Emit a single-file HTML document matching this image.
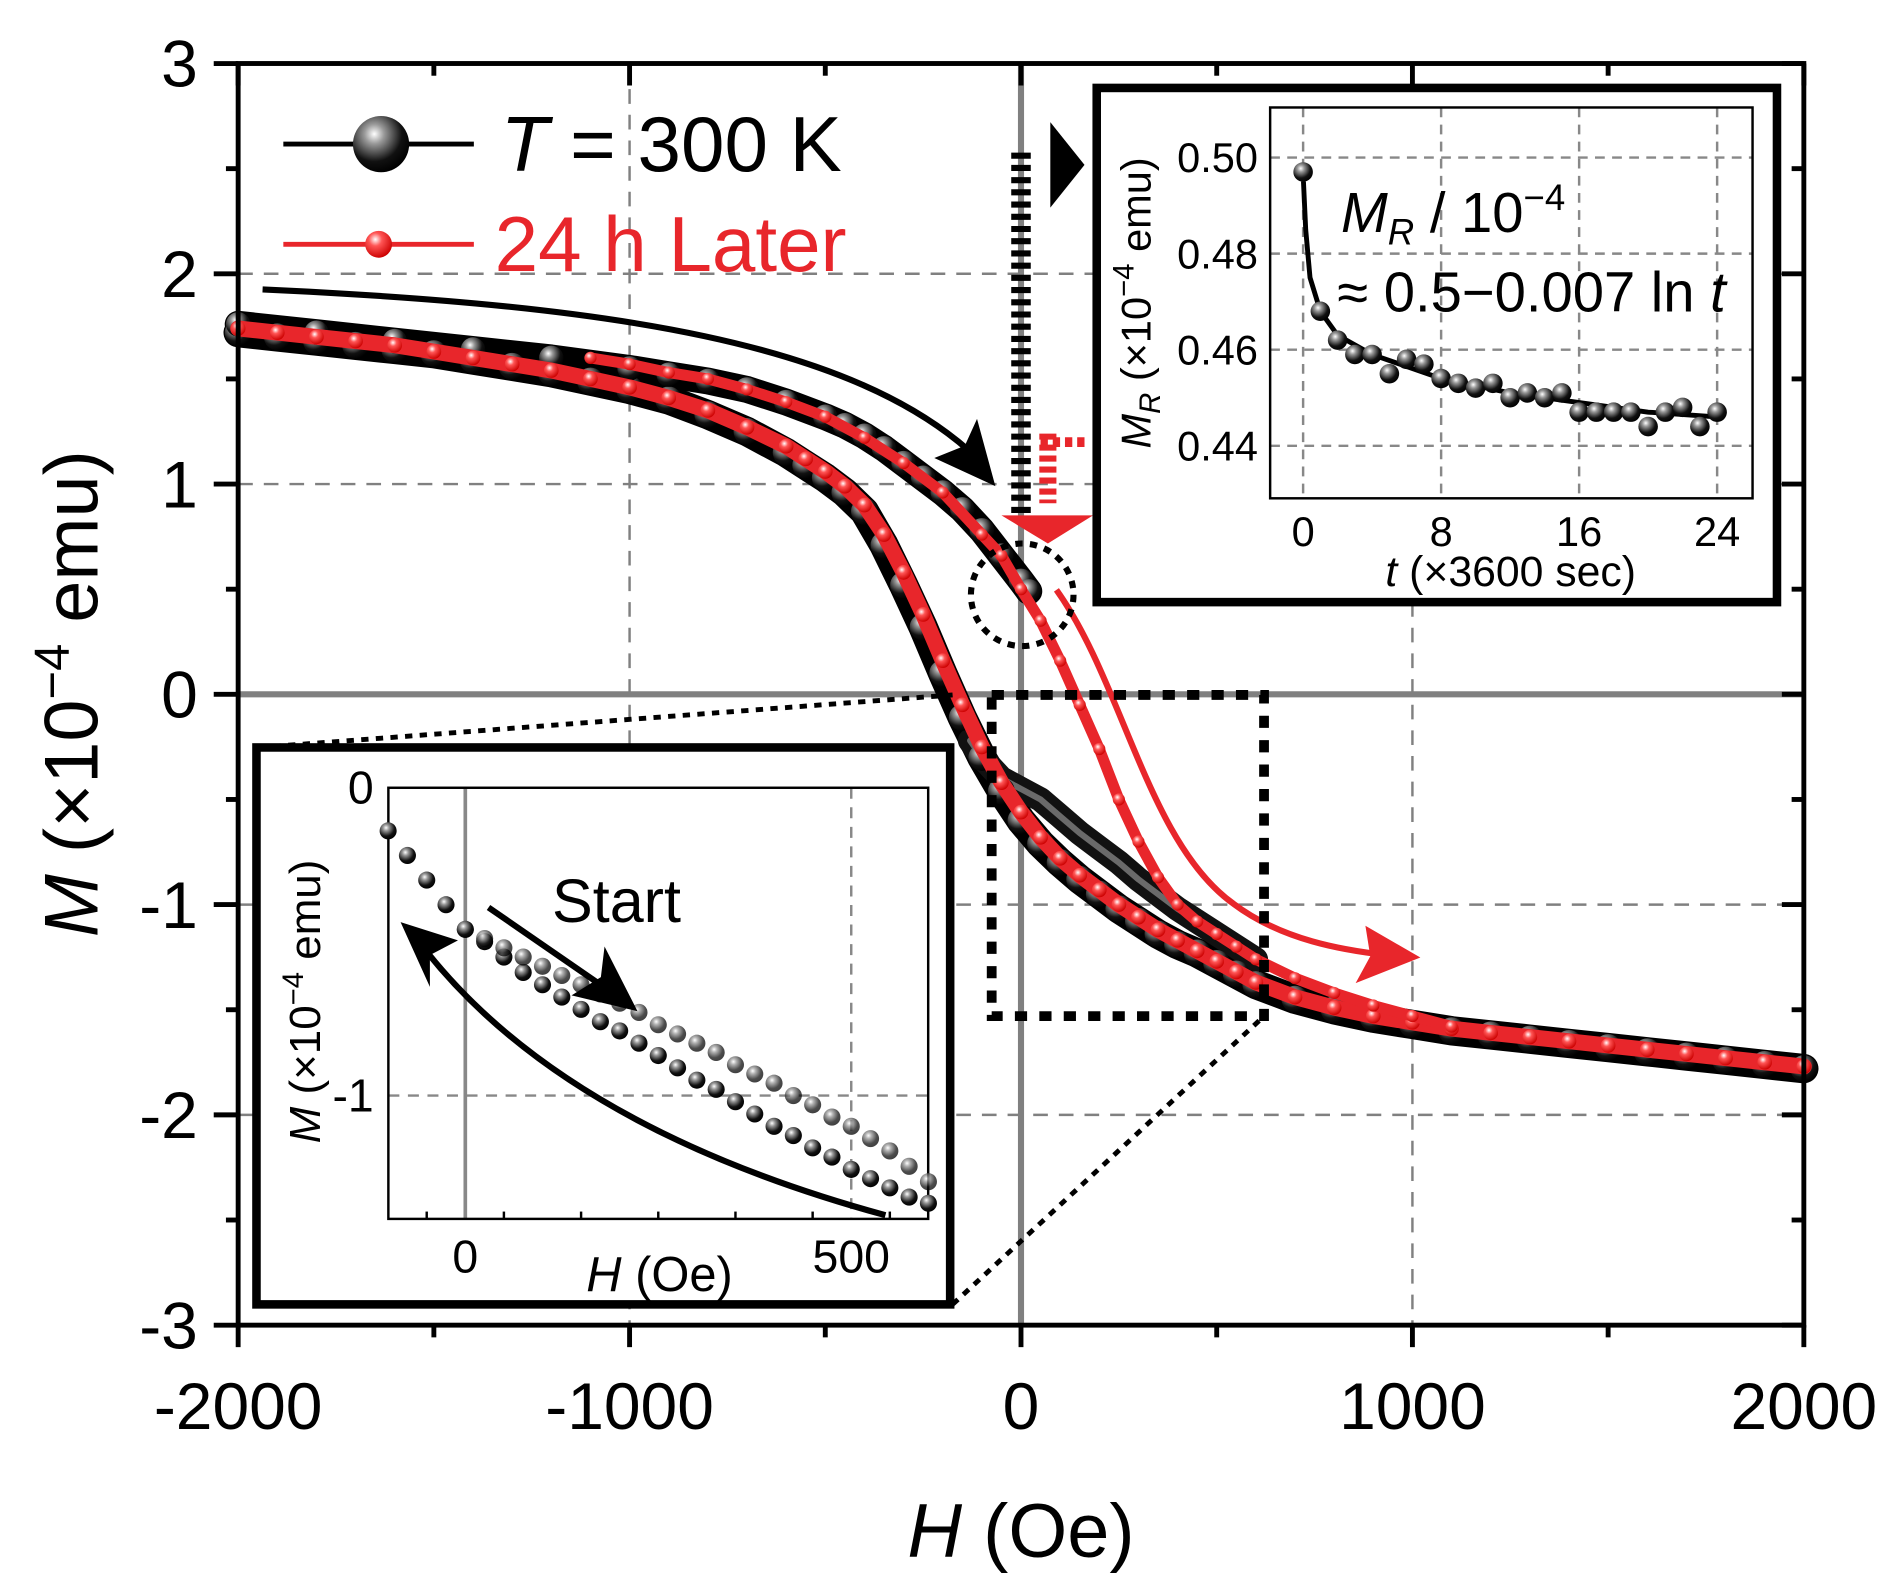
<!DOCTYPE html>
<html><head><meta charset="utf-8"><style>
html,body{margin:0;padding:0;background:#fff}
svg{display:block}
text{font-family:"Liberation Sans",sans-serif}
</style></head><body>
<svg id="chart" width="1893" height="1582" viewBox="0 0 1550 1295.3" preserveAspectRatio="none" xmlns="http://www.w3.org/2000/svg">
<defs>
<radialGradient id="gB" cx="0.38" cy="0.32" r="0.7"><stop offset="0" stop-color="#fff"/><stop offset="0.25" stop-color="#999"/><stop offset="0.7" stop-color="#111"/><stop offset="1" stop-color="#000"/></radialGradient>
<radialGradient id="gR" cx="0.38" cy="0.32" r="0.7"><stop offset="0" stop-color="#fff"/><stop offset="0.35" stop-color="#f55"/><stop offset="1" stop-color="#c00"/></radialGradient>
</defs>
<g id="main"></g>
<g id="inset1"></g>
<g id="inset2"></g>
</svg>
<script>
// ---- main chart data ----
const xTicks=[-2000,-1000,0,1000,2000];
const yTicks=[3,2,1,0,-1,-2,-3];
const blackLowH=[-2000,-1900,-1800,-1700,-1600,-1500,-1400,-1300,-1200,-1100,-1000,-900,-800,-700,-600,-550,-500,-450,-400,-350,-300,-250,-200,-150,-100,-50,0,50,100,150,200,250,300,350,400,450,500,550,600,700,800,900,1000,1100,1200,1300,1400,1500,1600,1700,1800,1900,2000];
const blackLowM=[1.72,1.70,1.68,1.66,1.64,1.62,1.59,1.56,1.53,1.49,1.45,1.40,1.33,1.25,1.15,1.09,1.03,0.96,0.87,0.71,0.52,0.32,0.1,-0.11,-0.3,-0.46,-0.6,-0.71,-0.8,-0.88,-0.95,-1.02,-1.08,-1.14,-1.19,-1.23,-1.28,-1.33,-1.38,-1.45,-1.50,-1.54,-1.57,-1.60,-1.62,-1.64,-1.66,-1.68,-1.70,-1.72,-1.74,-1.76,-1.78];
const blackUpH=[-2000,-1800,-1600,-1400,-1200,-1000,-900,-800,-700,-600,-500,-450,-400,-350,-300,-250,-200,-150,-100,-50,0,20];
const blackUpM=[1.76,1.72,1.68,1.64,1.60,1.55,1.52,1.49,1.45,1.39,1.32,1.28,1.23,1.17,1.10,1.03,0.96,0.88,0.78,0.66,0.54,0.49];
const blackStartH=[-130,-100,-50,0,50,100,150,200,250,300,350,400,450,500,550,600];
const blackStartM=[-0.22,-0.3,-0.4,-0.45,-0.5,-0.58,-0.66,-0.73,-0.8,-0.88,-0.95,-1.02,-1.08,-1.14,-1.2,-1.26];
const redLowH=[-2000,-1900,-1800,-1700,-1600,-1500,-1400,-1300,-1200,-1100,-1000,-900,-800,-700,-600,-550,-500,-450,-400,-350,-300,-250,-200,-150,-100,-50,0,50,100,150,200,250,300,350,400,450,500,550,600,700,800,900,1000,1100,1200,1300,1400,1500,1600,1700,1800,1900,2000];
const redLowM=[1.74,1.72,1.70,1.68,1.66,1.63,1.60,1.57,1.54,1.50,1.46,1.41,1.35,1.27,1.18,1.12,1.06,0.99,0.9,0.76,0.58,0.38,0.16,-0.05,-0.25,-0.42,-0.56,-0.68,-0.78,-0.86,-0.93,-1.0,-1.06,-1.12,-1.17,-1.22,-1.27,-1.32,-1.37,-1.44,-1.49,-1.53,-1.56,-1.59,-1.61,-1.63,-1.65,-1.67,-1.69,-1.71,-1.73,-1.75,-1.77];
const redUpH=[-1100,-1000,-900,-800,-700,-600,-500,-400,-300,-200,-100,-50,0,50,100,150,200,250,300,350,400,450,500,550,600,700,800,900,1000,1100];
const redUpM=[1.6,1.57,1.53,1.5,1.45,1.39,1.32,1.22,1.1,0.96,0.76,0.66,0.5,0.35,0.16,-0.05,-0.26,-0.5,-0.7,-0.87,-1.0,-1.08,-1.14,-1.2,-1.26,-1.35,-1.42,-1.48,-1.53,-1.58];
// ---- inset 1 data ----
const in1XTicks=[0,500];
const in1YTicks=[0,-1];
const in1GreyH=[0,25,50,75,100,125,150,175,200,225,250,275,300,325,350,375,400,425,450,475,500,525,550,575,600];
const in1GreyM=[-0.46,-0.49,-0.52,-0.55,-0.58,-0.61,-0.64,-0.67,-0.70,-0.73,-0.77,-0.80,-0.83,-0.86,-0.90,-0.93,-0.96,-1.0,-1.03,-1.07,-1.1,-1.14,-1.18,-1.23,-1.28];
const in1BlackH=[-100,-75,-50,-25,0,25,50,75,100,125,150,175,200,225,250,275,300,325,350,375,400,425,450,475,500,525,550,575,600];
const in1BlackM=[-0.14,-0.22,-0.3,-0.38,-0.46,-0.5,-0.55,-0.6,-0.64,-0.68,-0.72,-0.76,-0.79,-0.83,-0.87,-0.91,-0.95,-0.98,-1.02,-1.06,-1.1,-1.13,-1.17,-1.2,-1.24,-1.27,-1.3,-1.33,-1.35];
// ---- inset 2 data ----
const in2XTicks=[0,8,16,24];
const in2YTicks=[0.50,0.48,0.46,0.44];
const in2T=[0,1,2,3,4,5,6,7,8,9,10,11,12,13,14,15,16,17,18,19,20,21,22,23,24];
const in2M=[0.497,0.468,0.462,0.459,0.459,0.455,0.458,0.457,0.454,0.453,0.452,0.453,0.450,0.451,0.450,0.451,0.447,0.447,0.447,0.447,0.444,0.447,0.448,0.444,0.447];
const in2FitT=[0.02,0.15,0.4,1,2,4,8,12,16,20,24];
const in2FitM=[0.495,0.485,0.475,0.468,0.463,0.459,0.454,0.451,0.449,0.447,0.446];

const NS="http://www.w3.org/2000/svg";
function mk(parent,tag,attrs,txt){const e=document.createElementNS(NS,tag);for(const k in attrs)e.setAttribute(k,attrs[k]);if(txt!==undefined)e.textContent=txt;parent.appendChild(e);return e;}

const X=h=>195+(h+2000)*(1477-195)/4000;
const Y=m=>52+(3-m)*(1085-52)/6;
const G=document.getElementById('main');
[-1000,1000].forEach(v=>{const l=mk(G,'line',{x1:X(v),x2:X(v),y1:52,y2:1085,stroke:'#808080','stroke-width':2,'stroke-dasharray':'12 9'});

});
[2,1,-1,-2].forEach(v=>{const l=mk(G,'line',{x1:195,x2:1477,y1:Y(v),y2:Y(v),stroke:'#808080','stroke-width':2,'stroke-dasharray':'12 9'});

});
let z1=mk(G,'line',{x1:X(0),x2:X(0),y1:52,y2:1085,stroke:'#808080','stroke-width':5});


let z2=mk(G,'line',{x1:195,x2:1477,y1:Y(0),y2:Y(0),stroke:'#808080','stroke-width':5});



function poly(g,H,M,fx,fy,stroke,w,name){const p=mk(g,'polyline',{points:H.map((h,i)=>fx(h)+','+fy(M[i])).join(' '),fill:'none',stroke:stroke,'stroke-width':w,'stroke-linejoin':'round','stroke-linecap':'round'});

return p;}
function dots(g,H,M,fx,fy,r,grad,name){H.forEach((h,i)=>{const c=mk(g,'circle',{cx:fx(h),cy:fy(M[i]),r:r,fill:'url(#'+grad+')'});

});}

poly(G,blackLowH,blackLowM,X,Y,'#000',24,'black-lower-branch');
poly(G,blackUpH,blackUpM,X,Y,'#000',22,'black-upper-branch');
poly(G,blackStartH,blackStartM,X,Y,'#111',20,'black-start-branch');
poly(G,blackStartH,blackStartM,X,Y,'#6a6a6a',5,'black-start-core');
dots(G,blackLowH,blackLowM,X,Y,11,'gB','black-lower-marker');
dots(G,blackUpH,blackUpM,X,Y,10,'gB','black-upper-marker');
poly(G,redLowH,redLowM,X,Y,'#e8262b',13,'red-lower-branch');
dots(G,redLowH,redLowM,X,Y,6,'gR','red-lower-marker');
poly(G,redUpH,redUpM,X,Y,'#e8262b',9,'red-upper-branch');
dots(G,redUpH,redUpM,X,Y,5,'gR','red-upper-marker');

let fr=mk(G,'rect',{x:195,y:52,width:1282,height:1033,fill:'none',stroke:'#000','stroke-width':4});


for(let v=-2000;v<=2000;v+=500){const major=v%1000===0;
 const t=mk(G,'line',{x1:X(v),x2:X(v),y1:1085,y2:1085+(major?18:10),stroke:'#000','stroke-width':4});
 
 
 const t2=mk(G,'line',{x1:X(v),x2:X(v),y1:52,y2:52+(major?18:10),stroke:'#000','stroke-width':4});
 
 }
for(let v=-3;v<=3;v+=0.5){const major=Math.abs(v%1)<1e-9;
 const t=mk(G,'line',{x1:195-(major?20:10),x2:195,y1:Y(v),y2:Y(v),stroke:'#000','stroke-width':4});
 
 
 const t2=mk(G,'line',{x1:1477-(major?18:10),x2:1477,y1:Y(v),y2:Y(v),stroke:'#000','stroke-width':4});
 
 }
xTicks.forEach(v=>{const t=mk(G,'text',{x:X(v),y:1170,'font-size':54,'text-anchor':'middle'},String(v));

});
yTicks.forEach(v=>{const t=mk(G,'text',{x:162,y:Y(v)+19,'font-size':54,'text-anchor':'end'},String(v));

});
</script>
<script>
(function(){
const G=document.getElementById('main');
function add(tag,attrs,txt,name){const e=mk(G,tag,attrs,txt);return e;}
let xt=add('text',{x:836,y:1275,'font-size':62,'text-anchor':'middle'},'','x-axis-title');
xt.innerHTML='<tspan font-style="italic">H</tspan> (Oe)';
let yt=add('text',{x:0,y:0,'font-size':62,'text-anchor':'middle',transform:'translate(80,568) rotate(-90)'},'','y-axis-title');
yt.innerHTML='<tspan font-style="italic">M</tspan> (×10<tspan dy="-24" font-size="40">−4</tspan><tspan dy="24"> emu)</tspan>';
add('line',{x1:232,x2:388,y1:118,y2:118,stroke:'#000','stroke-width':4},undefined,'legend-black-line');
add('circle',{cx:312,cy:118,r:23,fill:'url(#gB)'},undefined,'legend-black-marker');
let l1=add('text',{x:410,y:140,'font-size':64},'','legend-black-label');
l1.innerHTML='<tspan font-style="italic">T</tspan> = 300 K';
add('line',{x1:232,x2:388,y1:200,y2:200,stroke:'#e8262b','stroke-width':4},undefined,'legend-red-line');
add('circle',{cx:310,cy:200,r:11,fill:'url(#gR)'},undefined,'legend-red-marker');
add('text',{x:405,y:222,'font-size':64,fill:'#e8262b'},'24 h Later','legend-red-label');
add('path',{d:'M215,237 C500,250 700,280 800,375',fill:'none',stroke:'#000','stroke-width':5},undefined,'black-sweep-arrow');
add('polygon',{points:'815,398 765,375 790,365 800,343',fill:'#000'},undefined,'black-sweep-arrowhead');
add('path',{d:'M865,483 C920,560 940,690 1010,740 C1050,770 1100,778 1135,782',fill:'none',stroke:'#e8262b','stroke-width':5},undefined,'red-sweep-arrow');
add('polygon',{points:'1163,784 1110,805 1122,783 1118,758',fill:'#e8262b'},undefined,'red-sweep-arrowhead');
add('line',{x1:836,x2:836,y1:125,y2:420,stroke:'#000','stroke-width':16,'stroke-dasharray':'5 5'},undefined,'black-time-marker');
add('polygon',{points:'860,100 888,135 860,170',fill:'#000'},undefined,'black-time-arrowhead');
add('line',{x1:858,x2:858,y1:355,y2:412,stroke:'#e8262b','stroke-width':14,'stroke-dasharray':'5 4'},undefined,'red-time-marker');
add('line',{x1:852,x2:888,y1:362,y2:362,stroke:'#e8262b','stroke-width':8,'stroke-dasharray':'6 4'},undefined,'red-time-tick');
add('polygon',{points:'820,422 895,422 858,445',fill:'#e8262b'},undefined,'red-time-arrowhead');
add('circle',{cx:837,cy:487,r:42,fill:'none',stroke:'#000','stroke-width':5,'stroke-dasharray':'6 6'},undefined,'remanence-circle');
add('rect',{x:812,y:569,width:223,height:263,fill:'none',stroke:'#000','stroke-width':8,'stroke-dasharray':'10 10'},undefined,'zoom-rectangle');
add('line',{x1:212,y1:612,x2:780,y2:569,stroke:'#000','stroke-width':4,'stroke-dasharray':'6 6'},undefined,'zoom-connector-top');
add('line',{x1:780,y1:1068,x2:1035,y2:832,stroke:'#000','stroke-width':4,'stroke-dasharray':'6 6'},undefined,'zoom-connector-bottom');
})();

(function(){
const G=document.getElementById('inset1');
const X1=h=>381+h*(697-381)/500, Y1=m=>645+(-m)*(897-645);
function add(tag,attrs,txt,name){const e=mk(G,tag,attrs,txt);return e;}
add('rect',{x:210,y:612,width:568,height:456,fill:'#fff',stroke:'#000','stroke-width':7},undefined,'inset1-frame');
add('line',{x1:697,x2:697,y1:645,y2:998,stroke:'#888','stroke-width':2,'stroke-dasharray':'9 7'},undefined,'inset1-gridline');
add('line',{x1:318,x2:760,y1:Y1(-1),y2:Y1(-1),stroke:'#888','stroke-width':2,'stroke-dasharray':'9 7'},undefined,'inset1-gridline');
add('line',{x1:X1(0),x2:X1(0),y1:645,y2:998,stroke:'#888','stroke-width':3},undefined,'inset1-zero-line');
add('rect',{x:318,y:645,width:442,height:353,fill:'none',stroke:'#000','stroke-width':2},undefined,'inset1-axes');
for(let v=-50;v<=600;v+=100){add('line',{x1:X1(v),x2:X1(v),y1:992,y2:998,stroke:'#000','stroke-width':2},undefined,'inset1-x-tick');}
in1XTicks.forEach(v=>add('text',{x:X1(v),y:1042,'font-size':38,'text-anchor':'middle'},String(v),'inset1-x-tick-label'));
in1YTicks.forEach(v=>add('text',{x:306,y:Y1(v)+13,'font-size':38,'text-anchor':'end'},String(v),'inset1-y-tick-label'));
let xt=add('text',{x:540,y:1057,'font-size':40,'text-anchor':'middle'},'','inset1-x-title');
xt.innerHTML='<tspan font-style="italic">H</tspan> (Oe)';
let yt=add('text',{x:0,y:0,'font-size':36,'text-anchor':'middle',transform:'translate(262,820) rotate(-90)'},'','inset1-y-title');
yt.innerHTML='<tspan font-style="italic">M</tspan> (×10<tspan dy="-14" font-size="24">−4</tspan><tspan dy="14"> emu)</tspan>';
const sg=mk(G,'g',{});
in1BlackH.forEach((h,i)=>{const c=mk(sg,'circle',{cx:X1(h),cy:Y1(in1BlackM[i]),r:7,fill:'url(#gB)'});

});
in1GreyH.forEach((h,i)=>{const c=mk(sg,'circle',{cx:X1(h),cy:Y1(in1GreyM[i]),r:7,fill:'url(#gB)',opacity:0.75});

});
add('text',{x:452,y:755,'font-size':50},'Start','start-label');
add('line',{x1:400,y1:743,x2:500,y2:812,stroke:'#000','stroke-width':5},undefined,'start-arrow');
add('polygon',{points:'522,828 468,815 492,800 495,775',fill:'#000'},undefined,'start-arrowhead');
add('path',{d:'M725,995 C560,950 430,880 350,780',fill:'none',stroke:'#000','stroke-width':5},undefined,'return-arrow');
add('polygon',{points:'328,755 375,770 352,782 352,808',fill:'#000'},undefined,'return-arrowhead');
})();

(function(){
const G=document.getElementById('inset2');
const X2=t=>1067+t*(1406-1067)/24, Y2=m=>129+(0.50-m)*(365-129)/0.06;
function add(tag,attrs,txt,name){const e=mk(G,tag,attrs,txt);return e;}
add('rect',{x:898,y:72,width:557,height:421,fill:'#fff',stroke:'#000','stroke-width':7},undefined,'inset2-frame');
in2XTicks.forEach(v=>add('line',{x1:X2(v),x2:X2(v),y1:88,y2:408,stroke:'#888','stroke-width':2,'stroke-dasharray':'8 6'},undefined,'inset2-x-gridline'));
in2YTicks.forEach(v=>add('line',{x1:1040,x2:1435,y1:Y2(v),y2:Y2(v),stroke:'#888','stroke-width':2,'stroke-dasharray':'8 6'},undefined,'inset2-y-gridline'));
add('rect',{x:1040,y:88,width:395,height:320,fill:'none',stroke:'#000','stroke-width':2},undefined,'inset2-axes');
in2XTicks.forEach(v=>add('text',{x:X2(v),y:447,'font-size':34,'text-anchor':'middle'},String(v),'inset2-x-tick-label'));
in2YTicks.forEach(v=>add('text',{x:1030,y:Y2(v)+12,'font-size':34,'text-anchor':'end'},v.toFixed(2),'inset2-y-tick-label'));
let xt=add('text',{x:1237,y:480,'font-size':35,'text-anchor':'middle'},'','inset2-x-title');
xt.innerHTML='<tspan font-style="italic">t</tspan> (×3600 sec)';
let yt=add('text',{x:0,y:0,'font-size':34,'text-anchor':'middle',transform:'translate(942,248) rotate(-90)'},'','inset2-y-title');
yt.innerHTML='<tspan font-style="italic">M<tspan font-size="24" dy="8">R</tspan></tspan><tspan dy="-8"> (×10</tspan><tspan dy="-14" font-size="24">−4</tspan><tspan dy="14"> emu)</tspan>';
add('polyline',{points:in2FitT.map((t,i)=>X2(t)+','+Y2(in2FitM[i])).join(' '),fill:'none',stroke:'#000','stroke-width':4},undefined,'inset2-fit-line');
in2T.forEach((t,i)=>{const c=mk(G,'circle',{cx:X2(t),cy:Y2(in2M[i]),r:8,fill:'url(#gB)'});

});
let f1=add('text',{x:1098,y:190,'font-size':46},'','fit-label-line1');
f1.innerHTML='<tspan font-style="italic">M<tspan font-size="30" dy="10">R</tspan></tspan><tspan dy="-10"> / 10</tspan><tspan dy="-18" font-size="30">−4</tspan>';
let f2=add('text',{x:1095,y:255,'font-size':46},'','fit-label-line2');
f2.innerHTML='≈ 0.5−0.007 ln <tspan font-style="italic">t</tspan>';
})();
</script>
</body></html>
